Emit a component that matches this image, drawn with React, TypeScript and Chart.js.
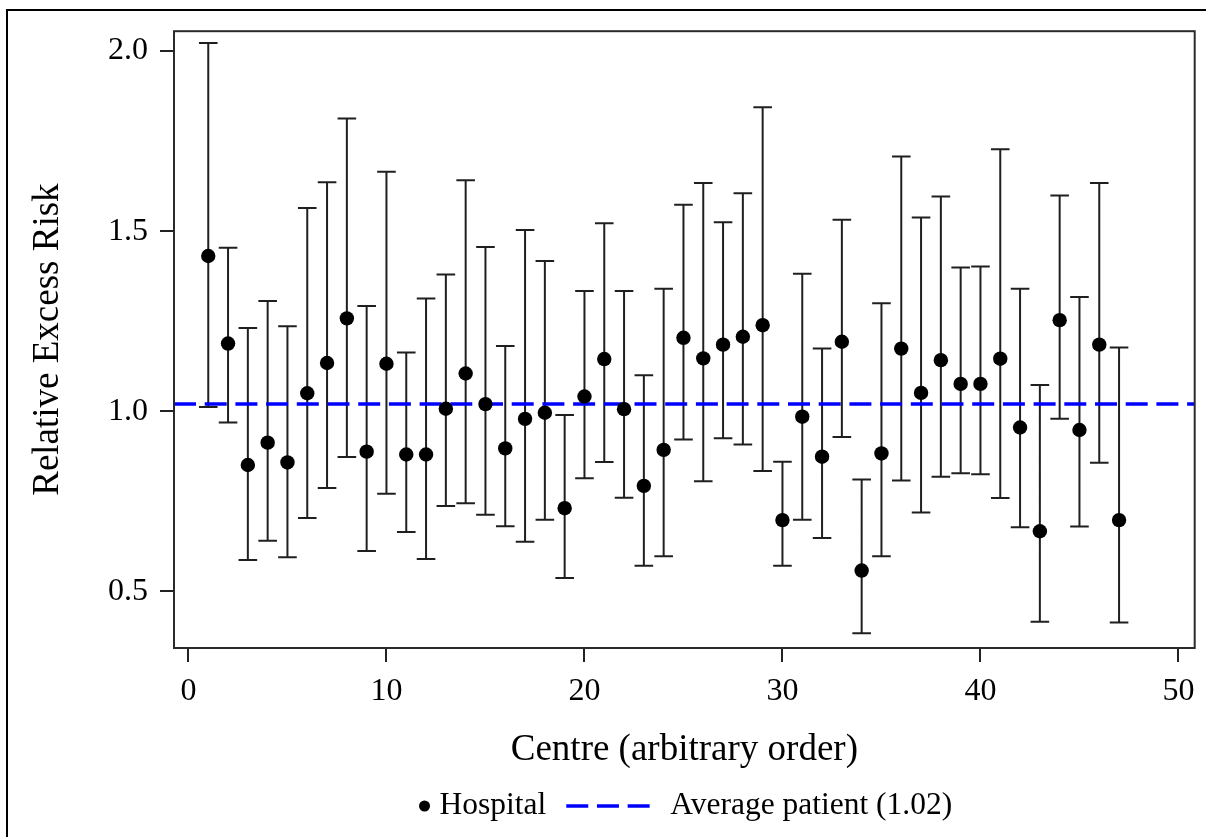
import React, { useEffect, useRef } from "react";
import { Chart, registerables } from "chart.js";

Chart.register(...registerables);

// ---- data ----
const centres = [
  1, 2, 3, 4, 5, 6, 7, 8, 9, 10, 11, 12, 13, 14, 15, 16, 17, 18, 19, 20, 21, 22, 23, 24,
  25, 26, 27, 28, 29, 30, 31, 32, 33, 34, 35, 36, 37, 38, 39, 40, 41, 42, 43, 44, 45, 46, 47,
];

const estimates = [
  1.431, 1.188, 0.851, 0.913, 0.858, 1.05, 1.134, 1.258, 0.888, 1.132, 0.88, 0.88, 1.007,
  1.105, 1.02, 0.897, 0.979, 0.996, 0.731, 1.041, 1.145, 1.006, 0.793, 0.893, 1.204, 1.147,
  1.185, 1.207, 1.239, 0.698, 0.985, 0.874, 1.193, 0.558, 0.883, 1.174, 1.051, 1.142, 1.076,
  1.076, 1.146, 0.955, 0.667, 1.253, 0.948, 1.185, 0.698,
];

const lowerCI = [
  1.012, 0.969, 0.587, 0.641, 0.595, 0.704, 0.787, 0.873, 0.612, 0.771, 0.665, 0.59, 0.737,
  0.745, 0.713, 0.681, 0.638, 0.699, 0.537, 0.814, 0.859, 0.76, 0.571, 0.598, 0.922, 0.806,
  0.925, 0.908, 0.834, 0.571, 0.699, 0.648, 0.929, 0.384, 0.598, 0.808, 0.719, 0.818, 0.828,
  0.825, 0.759, 0.678, 0.416, 0.979, 0.68, 0.857, 0.414,
];

const upperCI = [
  2.022, 1.454, 1.231, 1.306, 1.236, 1.564, 1.636, 1.813, 1.292, 1.665, 1.163, 1.313, 1.38,
  1.641, 1.456, 1.181, 1.503, 1.417, 0.99, 1.334, 1.522, 1.334, 1.1, 1.34, 1.573, 1.634,
  1.525, 1.605, 1.844, 0.86, 1.382, 1.174, 1.532, 0.811, 1.3, 1.707, 1.538, 1.596, 1.399,
  1.402, 1.727, 1.34, 1.073, 1.599, 1.317, 1.634, 1.177,
];

const averagePatient = 1.02;

const xTicks = [0, 10, 20, 30, 40, 50];
const yTicks = [0.5, 1.0, 1.5, 2.0];

const legendLabels = ["Hospital", "Average patient (1.02)"];
const xTitle = "Centre (arbitrary order)";
const yTitle = "Relative Excess Risk";

// ---- styling ----
const FONT = "'Liberation Serif', 'Times New Roman', Times, serif";
const X_MIN = -0.73;
const X_MAX = 50.82;
const Y_MIN = 0.343;
const Y_MAX = 2.055;
const BAR_COLOR = "#1f1f1f";
const DASH = [22, 8.7];

const framePlugin = {
  id: "frameAndLegend",
  afterDraw(chart: any) {
    const { ctx, chartArea: a } = chart;
    ctx.save();
    // outer page frame (left + top edges)
    ctx.fillStyle = "#000";
    ctx.fillRect(6, 9, chart.width - 6, 2);
    ctx.fillRect(6, 9, 2, chart.height - 9);

    // plot frame
    ctx.strokeStyle = "#2b2b2b";
    ctx.lineWidth = 2;
    ctx.setLineDash([]);
    ctx.strokeRect(a.left, a.top, a.right - a.left, a.bottom - a.top);

    // legend
    ctx.font = `31.5px ${FONT}`;
    ctx.textBaseline = "middle";
    ctx.textAlign = "left";
    const y = 806;
    const dotR = 5.5;
    const dotGap = 15;
    const itemGap = 20;
    const lineLen = 86;
    const lineGap = 18;
    const w0 = ctx.measureText(legendLabels[0]).width;
    const w1 = ctx.measureText(legendLabels[1]).width;
    const total = dotR + dotGap + w0 + itemGap + lineLen + lineGap + w1 + dotR;
    const cx = (a.left + a.right) / 2 + 4;
    let x = cx - total / 2;
    ctx.fillStyle = "#000";
    ctx.beginPath();
    ctx.arc(x + dotR, y, dotR, 0, Math.PI * 2);
    ctx.fill();
    x += dotR + dotGap;
    ctx.fillText(legendLabels[0], x, y);
    x += w0 + itemGap;
    ctx.strokeStyle = "#0000ff";
    ctx.lineWidth = 3.5;
    ctx.setLineDash(DASH);
    ctx.beginPath();
    ctx.moveTo(x, y);
    ctx.lineTo(x + lineLen, y);
    ctx.stroke();
    ctx.setLineDash([]);
    x += lineLen + lineGap;
    ctx.fillStyle = "#000";
    ctx.fillText(legendLabels[1], x, y);
    ctx.restore();
  },
};

export default function App() {
  const ref = useRef<HTMLCanvasElement | null>(null);

  useEffect(() => {
    if (!ref.current) return;

    const whiskerData: { x: number; y: number | null }[] = [];
    centres.forEach((c, i) => {
      whiskerData.push({ x: c, y: lowerCI[i] });
      whiskerData.push({ x: c, y: upperCI[i] });
      whiskerData.push({ x: c, y: null });
    });

    const pointData = centres.map((c, i) => ({ x: c, y: estimates[i] }));

    const tickFont = { family: FONT, size: 32 };
    const titleFont = { family: FONT, size: 37 };
    const grid = {
      display: true,
      drawOnChartArea: false,
      drawTicks: true,
      tickLength: 14,
      tickWidth: 2,
      tickColor: "#222",
      lineWidth: 2,
      color: "#222",
    };

    const chart = new Chart(ref.current, {
      type: "scatter",
      data: {
        datasets: [
          {
            label: "Hospital",
            data: pointData,
            pointRadius: 7.2,
            pointHoverRadius: 7.2,
            pointStyle: "circle",
            pointBackgroundColor: "#000",
            pointBorderColor: "#000",
            pointBorderWidth: 0,
            order: 1,
          } as any,
          {
            label: "Average patient (1.02)",
            data: [
              { x: X_MIN, y: averagePatient },
              { x: X_MAX, y: averagePatient },
            ],
            showLine: true,
            borderColor: "#0000ff",
            borderWidth: 3.5,
            borderDash: DASH,
            pointRadius: 0,
            order: 2,
          } as any,
          {
            label: "CI",
            data: whiskerData,
            showLine: true,
            spanGaps: false,
            borderColor: BAR_COLOR,
            borderWidth: 2,
            pointStyle: "line",
            pointRadius: 9.3,
            pointHoverRadius: 9.3,
            pointBorderWidth: 2,
            pointBorderColor: BAR_COLOR,
            order: 3,
          } as any,
        ],
      },
      options: {
        animation: false,
        responsive: false,
        maintainAspectRatio: false,
        events: [],
        layout: { padding: { left: 0, top: 29, right: 9.3, bottom: 49 } },
        plugins: {
          legend: { display: false },
          tooltip: { enabled: false },
        },
        scales: {
          x: {
            type: "linear",
            min: X_MIN,
            max: X_MAX,
            afterBuildTicks: (s: any) => {
              s.ticks = xTicks.map((v) => ({ value: v }));
            },
            afterFit: (s: any) => {
              s.height = 140;
            },
            ticks: {
              font: tickFont,
              color: "#000",
              padding: 10,
              maxRotation: 0,
              autoSkip: false,
              callback: (v: any) => String(v),
            },
            grid,
            border: { display: false },
            title: {
              display: true,
              text: xTitle,
              font: titleFont,
              color: "#000",
              padding: { top: 0, bottom: 15.8 },
            },
          },
          y: {
            type: "linear",
            min: Y_MIN,
            max: Y_MAX,
            afterBuildTicks: (s: any) => {
              s.ticks = yTicks.map((v) => ({ value: v }));
            },
            afterFit: (s: any) => {
              s.width = 174;
            },
            ticks: {
              font: tickFont,
              color: "#000",
              padding: 12,
              autoSkip: false,
              callback: (v: any) => Number(v).toFixed(1),
            },
            grid,
            border: { display: false },
            title: {
              display: true,
              text: yTitle,
              font: titleFont,
              color: "#000",
              padding: { top: 26, bottom: 0 },
            },
          },
        },
      } as any,
      plugins: [framePlugin],
    });

    return () => chart.destroy();
  }, []);

  return (
    <div
      style={{
        position: "fixed",
        left: 0,
        top: 0,
        width: 1206,
        height: 837,
        background: "#fff",
      }}
    >
      <canvas ref={ref} width={1206} height={837} style={{ display: "block", width: 1206, height: 837 }} />
    </div>
  );
}
